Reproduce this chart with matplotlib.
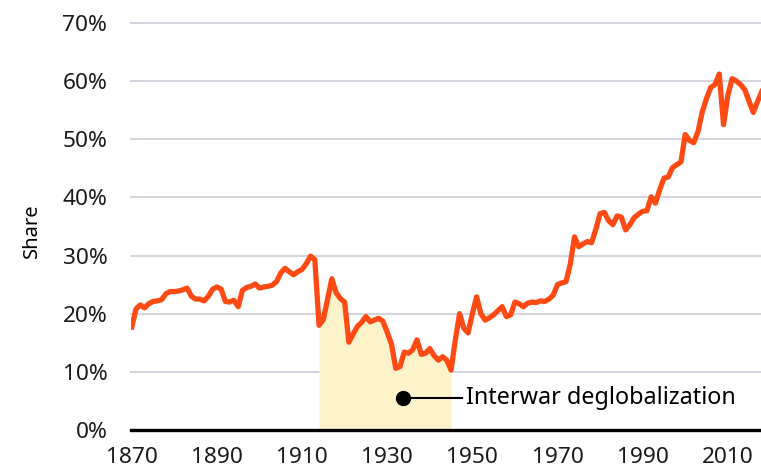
import numpy as np
import matplotlib.pyplot as plt

plt.rcParams['font.family'] = ['Noto Sans', 'DejaVu Sans']

# years and trade share (%)
years = np.arange(1870, 2019)
share = [
    17.7, 20.8, 21.5, 21.0, 21.7, 22.1, 22.2, 22.4, 23.4, 23.8,  # 1870s
    23.8, 23.9, 24.1, 24.4, 23.0, 22.5, 22.5, 22.2, 23.0, 24.2,  # 1880s
    24.6, 24.2, 22.1, 22.0, 22.3, 21.2, 24.0, 24.5, 24.7, 25.1,  # 1890s
    24.4, 24.6, 24.7, 24.9, 25.5, 27.0, 27.8, 27.2, 26.7, 27.2,  # 1900s
    27.6, 28.6, 29.9, 29.3, 18.0, 19.0, 22.5, 26.0, 23.6, 22.6,  # 1910s
    22.0, 15.1, 16.5, 17.8, 18.5, 19.5, 18.6, 18.9, 19.2, 18.7,  # 1920s
    16.8, 14.8, 10.6, 10.9, 13.4, 13.2, 13.8, 15.5, 13.0, 13.2,  # 1930s
    14.0, 12.8, 12.0, 12.6, 12.0, 10.3, 15.5, 20.0, 17.5, 16.7,  # 1940s
    20.0, 22.9, 20.0, 18.9, 19.3, 19.8, 20.5, 21.2, 19.5, 19.8,  # 1950s
    22.0, 21.7, 21.2, 21.8, 22.0, 21.9, 22.2, 22.1, 22.5, 23.2,  # 1960s
    25.0, 25.3, 25.5, 28.5, 33.2, 31.5, 32.0, 32.4, 32.2, 34.5,  # 1970s
    37.2, 37.4, 36.0, 35.3, 36.8, 36.6, 34.4, 35.3, 36.5, 37.1,  # 1980s
    37.6, 37.7, 40.1, 39.0, 41.3, 43.3, 43.5, 45.1, 45.6, 46.1,  # 1990s
    50.8, 49.8, 49.4, 51.3, 54.7, 57.0, 58.9, 59.4, 61.2, 52.5,  # 2000s
    57.5, 60.4, 60.0, 59.4, 58.5, 56.5, 54.6, 56.5, 58.2,        # 2010s
]
share = np.array(share)

interwar_start, interwar_end = 1914, 1945
note_year, note_value = 1933.7, 5.5
note_text = 'Interwar deglobalization'

yticks = [0, 10, 20, 30, 40, 50, 60, 70]
xticks = [1870, 1890, 1910, 1930, 1950, 1970, 1990, 2010]

fig = plt.figure(figsize=(7.61, 4.69), dpi=100)
ax = fig.add_axes([0.172, 0.0832, 0.828, 0.868])

# 戦間期の網掛け（線の下だけ）
mask = (years >= interwar_start) & (years <= interwar_end)
ax.fill_between(years[mask], 0, share[mask], color='#FDF3CB', lw=0, zorder=1)

ax.plot(years, share, color='#FF4A14', lw=3.8, solid_joinstyle='round', zorder=3)

for v in yticks[1:]:
    ax.axhline(v, color='#D5D5DD', lw=1.5, zorder=0, clip_on=False)
ax.axhline(0, color='black', lw=2.4, zorder=4, clip_on=False)

# 注釈
ax.plot(note_year, note_value, 'o', color='black', ms=10, zorder=5)
ax.plot([note_year, 1947.5], [note_value, note_value], color='black', lw=1.5, zorder=5)
ax.text(1948.6, note_value, note_text, fontsize=16.8, va='center', ha='left', color='black')

ax.set_xlim(1869.8, 2017.8)
ax.set_ylim(0, 70)
ax.set_yticks(yticks)
ax.set_yticklabels([f'{v}%' for v in yticks])
ax.set_xticks(xticks)
ax.tick_params(axis='both', length=0, labelsize=16.3, colors='#1a1a1a')
ax.tick_params(axis='y', pad=17)
ax.tick_params(axis='x', pad=12)
ax.set_ylabel('Share', fontsize=14.5)
ax.yaxis.set_label_coords(-0.141, 0.49)
for s in ax.spines.values():
    s.set_visible(False)

fig.savefig('out.png', dpi=100)
